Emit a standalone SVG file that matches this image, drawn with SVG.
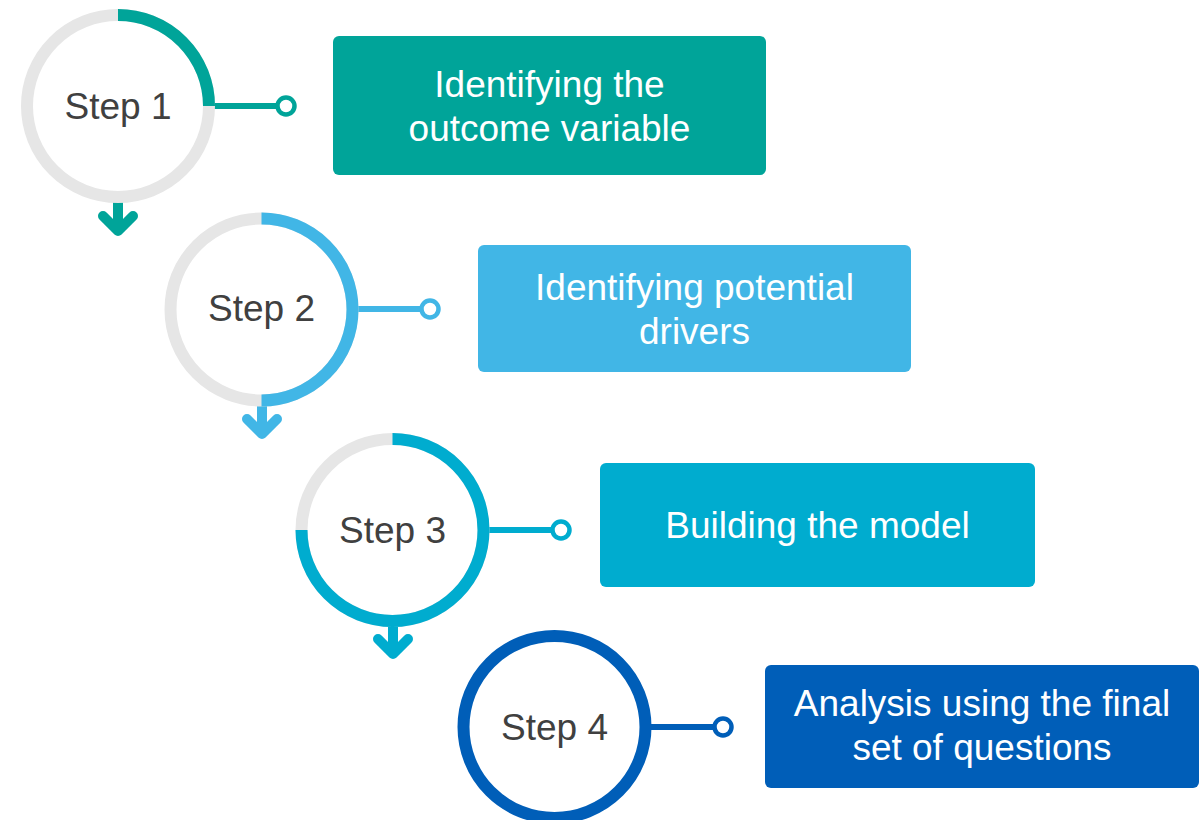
<svg xmlns="http://www.w3.org/2000/svg" width="1202" height="820" viewBox="0 0 1202 820">
<style>
.ring{fill:none;stroke:#E6E6E6;stroke-width:12}
.arc{fill:none;stroke-width:12}
.step{font-family:"Liberation Sans",Arial,sans-serif;font-size:37px;fill:#404040;text-anchor:middle}
.lbl{font-family:"Liberation Sans",Arial,sans-serif;font-size:37px;fill:#FFFFFF;text-anchor:middle}
.conn{fill:none;stroke-width:6}
.dot{fill:#FFFFFF;stroke-width:4.5}
.arrow{fill:none;stroke-width:10;stroke-linecap:round;stroke-linejoin:round}
</style>
<rect width="1202" height="820" fill="#FFFFFF"/>
<g id="connectors">
  <line class="conn" x1="209" y1="106" x2="278" y2="106" stroke="#00A499"/>
  <circle class="dot" cx="286" cy="106" r="8.5" stroke="#00A499"/>
  <line class="conn" x1="352" y1="309" x2="422" y2="309" stroke="#41B6E6"/>
  <circle class="dot" cx="430" cy="309" r="8.5" stroke="#41B6E6"/>
  <line class="conn" x1="483" y1="530" x2="553" y2="530" stroke="#00ACCF"/>
  <circle class="dot" cx="561" cy="530" r="8.5" stroke="#00ACCF"/>
  <line class="conn" x1="645" y1="727" x2="715" y2="727" stroke="#005EB8"/>
  <circle class="dot" cx="723" cy="727" r="8.5" stroke="#005EB8"/>
  <path class="arrow" d="M118,202 L118,229 M103,216 L118,231 L133,216" stroke="#00A499"/>
  <path class="arrow" d="M262,404 L262,432 M247,419 L262,434 L277,419" stroke="#41B6E6"/>
  <path class="arrow" d="M393,624 L393,652 M378,639 L393,654 L408,639" stroke="#00ACCF"/>
</g>
<g id="step1">
  <circle class="ring" cx="118" cy="106" r="91"/>
  <path class="arc" d="M118,15 A91,91 0 0 1 209,106" stroke="#00A499"/>
  <text class="step" x="118" y="119">Step 1</text>
</g>
<g id="step2">
  <circle class="ring" cx="261.5" cy="309.5" r="91"/>
  <path class="arc" d="M261.5,218.5 A91,91 0 0 1 261.5,400.5" stroke="#41B6E6"/>
  <text class="step" x="261.5" y="321">Step 2</text>
</g>
<g id="step3">
  <circle class="ring" cx="392.5" cy="530" r="91"/>
  <path class="arc" d="M392.5,439 A91,91 0 1 1 301.5,530" stroke="#00ACCF"/>
  <text class="step" x="392.5" y="543">Step 3</text>
</g>
<g id="step4">
  <circle class="arc" cx="554.5" cy="727" r="91" stroke="#005EB8"/>
  <text class="step" x="554.5" y="740">Step 4</text>
</g>
<g id="box1">
  <rect x="333" y="36" width="433" height="139" rx="6" fill="#00A499"/>
  <text class="lbl" x="549.5" y="97">Identifying the</text>
  <text class="lbl" x="549.5" y="141">outcome variable</text>
</g>
<g id="box2">
  <rect x="478" y="245" width="433" height="127" rx="6" fill="#41B6E6"/>
  <text class="lbl" x="694.5" y="300">Identifying potential</text>
  <text class="lbl" x="694.5" y="344">drivers</text>
</g>
<g id="box3">
  <rect x="600" y="463" width="435" height="124" rx="6" fill="#00ACCF"/>
  <text class="lbl" x="817.5" y="538">Building the model</text>
</g>
<g id="box4">
  <rect x="765" y="665" width="434" height="123" rx="6" fill="#005EB8"/>
  <text class="lbl" x="982" y="716">Analysis using the final</text>
  <text class="lbl" x="982" y="760">set of questions</text>
</g>
</svg>
